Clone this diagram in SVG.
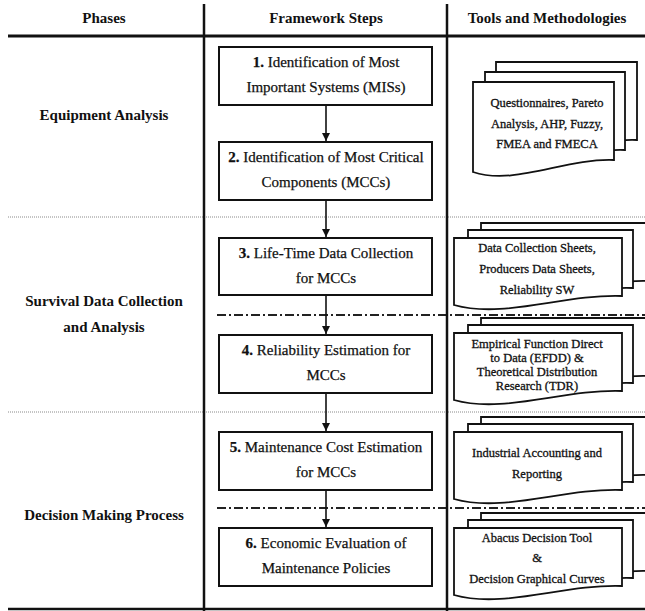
<svg xmlns="http://www.w3.org/2000/svg" xmlns:xlink="http://www.w3.org/1999/xlink" width="645" height="611" viewBox="0 0 645 611">
  <style>
    .bg { fill: #ffffff; }
    .rule { stroke: #111; stroke-width: 2.5; fill: none; }
    .rule-top { stroke: #111; stroke-width: 3; fill: none; }
    .dotted { stroke: #8a8a8a; stroke-width: 1; stroke-dasharray: 1 1; fill: none; }
    .dashdot { stroke: #222; stroke-width: 1.8; stroke-dasharray: 9 3 2 3; fill: none; }
    .box { fill: #fff; stroke: #111; stroke-width: 2; }
    .doc { fill: #fff; stroke: #111; stroke-width: 1.8; stroke-linejoin: miter; }
    .link { stroke: #111; stroke-width: 1.6; fill: none; marker-end: url(#arrow); }
    .head { font-family: "Liberation Serif", "Times New Roman", "DejaVu Serif", serif; font-size: 15px; font-weight: bold; text-anchor: middle; fill: #111; }
    .step { font-family: "Liberation Serif", "Times New Roman", "DejaVu Serif", serif; font-size: 15px; text-anchor: middle; fill: #111; stroke: #111; stroke-width: 0.25; }
    .step tspan.num { font-weight: bold; }
    .tool { font-family: "Liberation Serif", "Times New Roman", "DejaVu Serif", serif; font-size: 12.5px; text-anchor: middle; fill: #111; stroke: #111; stroke-width: 0.3; }
  </style>
  <defs>
    <marker id="arrow" markerUnits="userSpaceOnUse" markerWidth="8" markerHeight="8" refX="8" refY="4" orient="auto">
      <path d="M0,0 L8,4 L0,8 Z" fill="#111"/>
    </marker>
    <!-- stack of three document sheets, origin at the front sheet's top-left corner -->
    <g id="stack">
      <path class="doc" d="M27,-15 H196 V43 C137,41 78,66 27,52 Z"/>
      <path class="doc" d="M14,-8 H179 V50 C121,48 64,73 14,59 Z"/>
      <path class="doc" d="M0,0 H168 V58 C109,56 50,81 0,67 Z"/>
    </g>
  </defs>

  <rect class="bg" x="0" y="0" width="645" height="611"/>

  <!-- table frame and phase separators -->
  <g id="frame">
    <line class="dotted" x1="8" y1="217" x2="645" y2="217"/>
    <line class="dotted" x1="8" y1="412" x2="645" y2="412"/>
    <line class="dashdot" x1="217" y1="315" x2="645" y2="315"/>
    <line class="dashdot" x1="217" y1="508" x2="645" y2="508"/>
    <line class="rule-top" x1="8" y1="36" x2="645" y2="36"/>
    <line class="rule" x1="8" y1="609" x2="645" y2="609"/>
    <line class="rule" x1="204" y1="4" x2="204" y2="611"/>
    <line class="rule" x1="447" y1="4" x2="447" y2="611"/>
  </g>

  <!-- column headings -->
  <g id="headings">
    <text class="head" x="104" y="23">Phases</text>
    <text class="head" x="326" y="23">Framework Steps</text>
    <text class="head" x="547" y="23">Tools and Methodologies</text>
  </g>

  <!-- phases -->
  <g id="phase-equipment">
    <text class="head" x="104" y="120">Equipment Analysis</text>
  </g>
  <g id="phase-survival">
    <text class="head" x="104" y="306">Survival Data Collection</text>
    <text class="head" x="104" y="332">and Analysis</text>
  </g>
  <g id="phase-decision">
    <text class="head" x="104" y="520">Decision Making Process</text>
  </g>

  <!-- connectors between framework steps -->
  <g id="connectors">
    <line class="link" x1="326" y1="105" x2="326" y2="141"/>
    <line class="link" x1="326" y1="200" x2="326" y2="237"/>
    <line class="link" x1="326" y1="295" x2="326" y2="334"/>
    <line class="link" x1="326" y1="393" x2="326" y2="431"/>
    <line class="link" x1="326" y1="490" x2="326" y2="527"/>
  </g>

  <!-- framework steps -->
  <g id="step1">
    <rect class="box" x="219" y="47" width="213" height="58"/>
    <text class="step" x="326" y="67"><tspan class="num">1.</tspan> Identification of Most</text>
    <text class="step" x="326" y="92">Important Systems (MISs)</text>
  </g>
  <g id="step2">
    <rect class="box" x="219" y="142" width="213" height="58"/>
    <text class="step" x="326" y="162"><tspan class="num">2.</tspan> Identification of Most Critical</text>
    <text class="step" x="326" y="187">Components (MCCs)</text>
  </g>
  <g id="step3">
    <rect class="box" x="219" y="238" width="213" height="57"/>
    <text class="step" x="326" y="258"><tspan class="num">3.</tspan> Life-Time Data Collection</text>
    <text class="step" x="326" y="283">for MCCs</text>
  </g>
  <g id="step4">
    <rect class="box" x="219" y="335" width="213" height="58"/>
    <text class="step" x="326" y="355"><tspan class="num">4.</tspan> Reliability Estimation for</text>
    <text class="step" x="326" y="380">MCCs</text>
  </g>
  <g id="step5">
    <rect class="box" x="219" y="432" width="213" height="58"/>
    <text class="step" x="326" y="452"><tspan class="num">5.</tspan> Maintenance Cost Estimation</text>
    <text class="step" x="326" y="477">for MCCs</text>
  </g>
  <g id="step6">
    <rect class="box" x="219" y="528" width="213" height="58"/>
    <text class="step" x="326" y="548"><tspan class="num">6.</tspan> Economic Evaluation of</text>
    <text class="step" x="326" y="573">Maintenance Policies</text>
  </g>

  <!-- tools and methodologies -->
  <g id="tools1">
    <g transform="translate(473,82)">
      <path class="doc" d="M23,-20 H164 V58 C115,56 65,84 23,70 Z"/>
      <path class="doc" d="M12,-10 H152 V68 C103,66 54,94 12,80 Z"/>
      <path class="doc" d="M0,0 H141 V78 C92,76 42,104 0,90 Z"/>
    </g>
    <text class="tool" x="547" y="107">Questionnaires, Pareto</text>
    <text class="tool" x="547" y="128">Analysis, AHP, Fuzzy,</text>
    <text class="tool" x="547" y="148">FMEA and FMECA</text>
  </g>
  <g id="tools3">
    <use xlink:href="#stack" transform="translate(454,238)"/>
    <text class="tool" x="537" y="252">Data Collection Sheets,</text>
    <text class="tool" x="537" y="273">Producers Data Sheets,</text>
    <text class="tool" x="537" y="294">Reliability SW</text>
  </g>
  <g id="tools4">
    <use xlink:href="#stack" transform="translate(454,333)"/>
    <text class="tool" x="537" y="348">Empirical Function Direct</text>
    <text class="tool" x="537" y="362">to Data (EFDD) &amp;</text>
    <text class="tool" x="537" y="376">Theoretical Distribution</text>
    <text class="tool" x="537" y="390">Research (TDR)</text>
  </g>
  <g id="tools5">
    <use xlink:href="#stack" transform="translate(454,432)"/>
    <text class="tool" x="537" y="457">Industrial Accounting and</text>
    <text class="tool" x="537" y="478">Reporting</text>
  </g>
  <g id="tools6">
    <use xlink:href="#stack" transform="translate(454,528)"/>
    <text class="tool" x="537" y="542">Abacus Decision Tool</text>
    <text class="tool" x="537" y="562">&amp;</text>
    <text class="tool" x="537" y="583">Decision Graphical Curves</text>
  </g>
</svg>
